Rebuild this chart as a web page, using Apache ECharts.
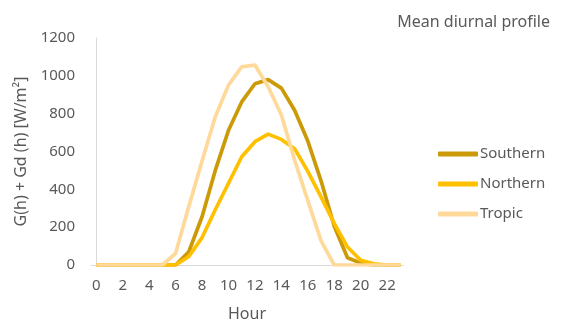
<!DOCTYPE html>
<html><head><meta charset="utf-8">
<script src="https://cdn.jsdelivr.net/npm/echarts@6/dist/echarts.min.js"></script>
<style>html,body{margin:0;padding:0;background:#fff}#c{width:563px;height:324px}</style>
</head><body><div id="c"></div>
<script>
const hours = [0,1,2,3,4,5,6,7,8,9,10,11,12,13,14,15,16,17,18,19,20,21,22,23];
const southern = [0,0,0,0,0,0,0,70,255,500,712,862,958,980,935,818,655,445,205,38,10,0,0,0];
const northern = [0,0,0,0,0,0,0,45,145,292,432,572,652,692,664,615,495,360,220,95,25,6,0,0];
const tropic   = [0,0,0,0,0,0,62,310,550,784,951,1048,1057,942,793,555,340,128,0,0,0,0,0,0];
const xTicks = [0,2,4,6,8,10,12,14,16,18,20,22];
const seriesNames = ['Southern','Northern','Tropic'];
const colors = ['#CC9A06','#FFC000','#FFD99A'];

const pairs = arr => hours.map((h,i)=>[h,arr[i]]);
const txt = '#595959';
const font = 'Noto Sans';
const chart = echarts.init(document.getElementById('c'));
chart.setOption({
  animation:false,
  textStyle:{fontFamily:font},
  title:{text:'Mean diurnal profile', right:8, top:9, textStyle:{fontSize:16, fontWeight:'normal', color:txt, fontFamily:font}},
  legend:{orient:'vertical', left:433, top:140, itemWidth:40, itemHeight:5, itemGap:12, icon:'roundRect',
    textStyle:{fontSize:15, lineHeight:18, color:txt, fontFamily:font, padding:[0,0,0,-3]}, data:seriesNames},
  grid:{left:91, right:160, top:38, bottom:59, containLabel:false, outerBoundsMode:'none'},
  xAxis:{type:'value', min:-0.4, max:23.2, name:'Hour', nameLocation:'middle', nameGap:41,
    nameTextStyle:{fontSize:16, color:txt},
    axisLine:{show:true, lineStyle:{color:'#D9D9D9', width:1}}, axisTick:{show:false}, splitLine:{show:false},
    axisLabel:{customValues:xTicks, color:txt, fontSize:15, margin:13}},
  yAxis:{type:'value', min:0, max:1200, interval:200, name:'G(h) + Gd (h) [W/m²]', nameLocation:'middle', nameGap:57,
    nameTextStyle:{fontSize:16, color:txt},
    axisLine:{show:true, lineStyle:{color:'#D9D9D9', width:1}}, axisTick:{show:false}, splitLine:{show:false},
    axisLabel:{color:txt, fontSize:15, margin:16, formatter:v=>String(v)}},
  series:[southern,northern,tropic].map((d,i)=>({
    name:seriesNames[i], type:'line', data:pairs(d), symbol:'none', z:2+i,
    lineStyle:{width:3.7, color:colors[i]}, itemStyle:{color:colors[i]}
  }))
});
</script></body></html>
